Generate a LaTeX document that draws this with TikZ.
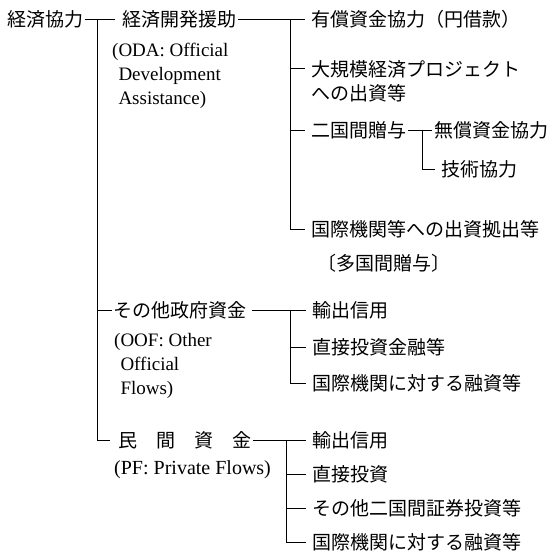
\documentclass[tikz,border=0pt]{standalone}
\usepackage{fontspec}
\setmainfont{Liberation Serif}
\newfontfamily\jp{Noto Sans CJK JP}
\tikzset{
  jpt/.style={anchor=west, inner sep=0pt, font={\fontsize{19}{24}\selectfont\jp}, text height=15.2pt, text depth=0.8pt},
  jpml/.style={anchor=base west, inner sep=0pt, font={\fontsize{19}{24}\selectfont\jp}, align=left},
  ent/.style={anchor=base west, inner sep=0pt, font={\fontsize{19}{24}\selectfont}, align=left},
  conn/.style={line width=0.8pt, black},
}
\begin{document}
\begin{tikzpicture}[x=1pt,y=1pt]
\useasboundingbox (0,0) rectangle (551,-554);
% level 1
\node[jpt] (kk) at (7,-19) {経済協力};
% level 2 (base anchor of a multi-line node = baseline of its last line)
\node[jpt] (oda) at (122,-19) {経済開発援助};
\node[ent] (odaen) at (112,-104) {(ODA: Official\\\hphantom{(}Development\\\hphantom{(}Assistance)};
\node[jpt] (oof) at (113,-310) {その他政府資金};
\node[ent] (oofen) at (114,-394) {(OOF: Other\\\hphantom{(}Official\\\hphantom{(}Flows)};
\node[jpt] (pf) at (118,-440) {民　間　資　金};
\node[ent, font={\fontsize{20}{24}\selectfont}] (pfen) at (114,-474) {(PF: Private Flows)};
% level 3 (ODA)
\node[jpt] (yusho) at (311,-19) {有償資金協力（円借款）};
\node[jpml] (daikibo) at (311,-100) {大規模経済プロジェクト\\への出資等};
\node[jpt] (nikoku) at (311,-130) {二国間贈与};
\node[jpt] (musho) at (434,-130) {無償資金協力};
\node[jpt] (gijutsu) at (441,-169) {技術協力};
\node[jpt] (kokusai) at (311,-229) {国際機関等への出資拠出等};
\node[jpt] (takoku) at (317,-263) {〔多国間贈与〕};
% level 3 (OOF)
\node[jpt] (yushutsu1) at (312,-310) {輸出信用};
\node[jpt] (chokusetsu1) at (312,-347) {直接投資金融等};
\node[jpt] (kokusai1) at (312,-383) {国際機関に対する融資等};
% level 3 (PF)
\node[jpt] (yushutsu2) at (312,-440) {輸出信用};
\node[jpt] (chokusetsu2) at (312,-474) {直接投資};
\node[jpt] (sonota2) at (312,-508) {その他二国間証券投資等};
\node[jpt] (kokusai2) at (312,-542) {国際機関に対する融資等};

% connectors
\draw[conn, shorten <=2pt, shorten >=7pt] (kk) -- (oda);
\coordinate (t1) at (97,-19);
\draw[conn] (t1) |- ([xshift=-8pt]pf.west);
\draw[conn] (t1 |- oof.west) -- ([xshift=-1pt]oof.west);

\draw[conn, shorten <=2pt, shorten >=6pt] (oda) -- (yusho);
\coordinate (t2) at (290,-19);
\coordinate (d1) at ([yshift=31.2pt,xshift=-6pt]daikibo.base west);
\draw[conn] (t2) |- ([xshift=-6pt]kokusai.west);
\draw[conn] (t2 |- d1) -- (d1);
\draw[conn] (t2 |- nikoku.west) -- ([xshift=-6pt]nikoku.west);

\draw[conn, shorten <=2pt, shorten >=2pt] (nikoku) -- (musho);
\coordinate (t3) at (422,-130);
\draw[conn] (t3) |- ([xshift=-6pt]gijutsu.west);

\draw[conn, shorten <=6pt, shorten >=6pt] (oof) -- (yushutsu1);
\coordinate (t4) at (290,-310);
\draw[conn] (t4) |- ([xshift=-6pt]kokusai1.west);
\draw[conn] (t4 |- chokusetsu1.west) -- ([xshift=-6pt]chokusetsu1.west);

\draw[conn, shorten <=2pt, shorten >=6pt] (pf) -- (yushutsu2);
\coordinate (t5) at (286,-440);
\draw[conn] (t5) |- ([xshift=-6pt]kokusai2.west);
\draw[conn] (t5 |- chokusetsu2.west) -- ([xshift=-6pt]chokusetsu2.west);
\draw[conn] (t5 |- sonota2.west) -- ([xshift=-6pt]sonota2.west);
\end{tikzpicture}
\end{document}
